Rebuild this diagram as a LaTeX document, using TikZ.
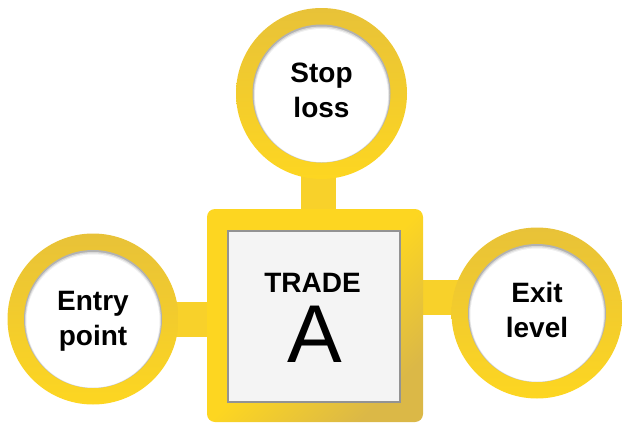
\documentclass[tikz,border=0pt]{standalone}
\usepackage{fontspec}
\setmainfont{Liberation Sans}
\usetikzlibrary{backgrounds}
\definecolor{ybright}{HTML}{FDD621}
\definecolor{ydark}{HTML}{E8C238}
\definecolor{ycorner}{HTML}{DBB847}
\definecolor{ybar}{HTML}{F8D12A}
\definecolor{boxfill}{HTML}{F4F4F4}
\definecolor{boxedge}{HTML}{939393}
\begin{document}
\begin{tikzpicture}[x=1pt,y=-1pt,
  ring/.style={circle, minimum size=171pt, inner sep=0pt,
    top color=ydark, bottom color=ybright},
  disc/.style={circle, minimum size=138pt, inner sep=0pt, fill=gray!60,
    path picture={
      \fill[gray!30] ([yshift=-1pt]path picture bounding box.center) circle (68pt);
      \fill[gray!12] ([yshift=-1.5pt]path picture bounding box.center) circle (67.2pt);
      \fill[white] ([yshift=-2pt]path picture bounding box.center) circle (66.5pt);}},
  lbl/.style={font=\fontsize{28}{35}\selectfont\bfseries, align=center, text=black, inner sep=0pt},
  bar/.style={draw=ybar, line width=35pt},
  frame/.style={rectangle, rounded corners=8pt, minimum width=216pt, minimum height=213pt,
    inner sep=0pt, top color=ybright, bottom color=ycorner, middle color=ybright, shading angle=45},
  innerbox/.style={rectangle, minimum width=172pt, minimum height=171pt, inner sep=0pt,
    fill=boxfill, draw=boxedge, line width=2.5pt},
  small/.style={font=\fontsize{28}{28}\selectfont\bfseries, anchor=base, inner sep=0pt},
  big/.style={font=\fontsize{82}{82}\selectfont, anchor=base, inner sep=0pt}
]
\useasboundingbox (0,0) rectangle (622,423);
% square
\node[frame] (trade) at (315,315.5) {};
\node[innerbox] (tradein) at (314,316.5) {};
\node[small] (tradelbl) at (312.5,292) {TRADE};
\node[big] (alpha) at (315,362) {A};
% circles
\node[ring] (stop) at (321.5,93.5) {};
\node[disc] (stopdisc) at (stop.center) {};
\node[lbl] (stoplbl) at ([yshift=3pt]stop.center) {Stop\\loss};
\node[ring] (entry) at (93,319) {};
\node[disc] (entrydisc) at (entry.center) {};
\node[lbl] (entrylbl) at ([yshift=-2pt]entry.center) {Entry\\point};
\node[ring] (exit) at (537,313) {};
\node[disc] (exitdisc) at (exit.center) {};
\node[lbl] (exitlbl) at ([yshift=3.5pt]exit.center) {Exit\\level};
% connectors
\begin{pgfonlayer}{background}
\draw[bar] ([xshift=-3pt]stop.center) -- ([xshift=-3pt]stop.center |- trade.center);
\draw[bar] (entry.center) -- (entry.center -| trade.center);
\draw[bar] ([yshift=15.5pt]exit.center) -- ([yshift=15.5pt]exit.center -| trade.center);
\end{pgfonlayer}
\end{tikzpicture}
\end{document}
